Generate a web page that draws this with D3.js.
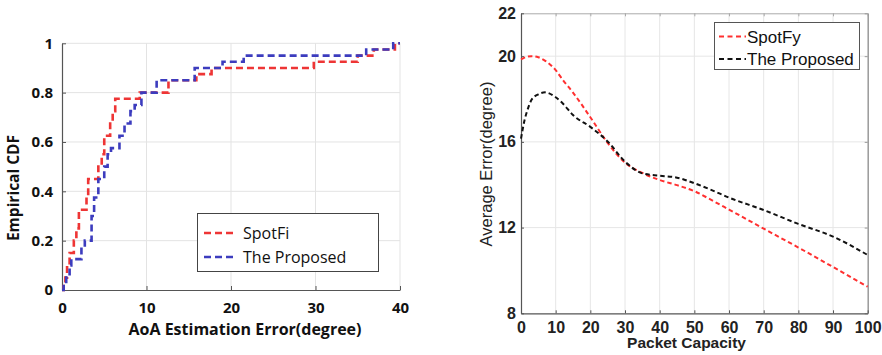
<!DOCTYPE html>
<html>
<head>
<meta charset="utf-8">
<script src="https://cdn.jsdelivr.net/npm/d3@7"></script>
<style>
  body { margin: 0; background: #fff; }
  svg { display: block; }
</style>
</head>
<body>
<script>
// ---- data: left panel (empirical CDF, step points) ----
var spotfiStepX = [0, 0.2, 0.4, 0.6, 0.9, 1.4, 1.7, 2.0, 2.9, 3.1, 4.3, 4.7, 5.0, 5.7, 6.0, 6.3, 9.2, 12.6, 15.9, 17.7, 29.8, 35.0, 36.9, 39.4, 40];
var spotfiStepY = [0, 0.025, 0.05, 0.1, 0.15, 0.2, 0.25, 0.325, 0.375, 0.45, 0.5, 0.55, 0.625, 0.675, 0.725, 0.775, 0.8, 0.85, 0.875, 0.9, 0.925, 0.95, 0.975, 1, 1];
var proposedStepX = [0, 0.2, 0.5, 0.9, 1.1, 2.3, 2.7, 3.5, 3.8, 4.3, 5.0, 5.4, 5.8, 6.8, 7.4, 8.1, 8.6, 9.4, 11.2, 15.7, 19.0, 21.5, 36.0, 39.2, 40];
var proposedStepY = [0, 0.025, 0.05, 0.1, 0.125, 0.175, 0.2, 0.3, 0.375, 0.45, 0.5, 0.55, 0.575, 0.625, 0.675, 0.725, 0.75, 0.8, 0.85, 0.9, 0.925, 0.95, 0.975, 1, 1];
var cdfTicksX = [0, 10, 20, 30, 40];
var cdfTicksY = [0, 0.2, 0.4, 0.6, 0.8, 1];

// ---- data: right panel (average error vs packet capacity) ----
var packetX = [0, 1, 2, 3, 5, 7, 10, 12, 15, 20, 25, 30, 35, 40, 45, 50, 55, 60, 70, 80, 90, 100];
var spotfyErr = [19.85, 19.93, 19.98, 20.0, 19.95, 19.78, 19.35, 18.9, 18.3, 17.15, 15.95, 15.03, 14.55, 14.22, 13.98, 13.7, 13.28, 12.84, 11.95, 11.07, 10.16, 9.24];
var proposedErr = [16.15, 17.0, 17.55, 17.95, 18.22, 18.31, 18.08, 17.8, 17.25, 16.7, 16.02, 15.08, 14.53, 14.42, 14.33, 14.07, 13.75, 13.4, 12.82, 12.17, 11.58, 10.72];
var errTicksX = [0, 10, 20, 30, 40, 50, 60, 70, 80, 90, 100];
var errTicksY = [8, 12, 16, 20, 22];

var w = 882, h = 355;
var svg = d3.select("body").append("svg").attr("width", w).attr("height", h);

// ================= LEFT PANEL =================
var leftFont = "'Open Sans', 'Noto Sans', sans-serif";
var x1 = d3.scaleLinear().domain([0, 40]).range([62, 400]);
var y1 = d3.scaleLinear().domain([0, 1]).range([290, 43.3]);

// grid
svg.append("g").selectAll("line.v").data(cdfTicksX.slice(1)).enter().append("line")
  .attr("x1", function(d) { return x1(d); }).attr("x2", function(d) { return x1(d); })
  .attr("y1", y1(0)).attr("y2", y1(1))
  .attr("stroke", "#e3e3e3").attr("stroke-width", 1);
svg.append("g").selectAll("line.h").data(cdfTicksY.slice(1)).enter().append("line")
  .attr("x1", x1(0)).attr("x2", x1(40))
  .attr("y1", function(d) { return y1(d); }).attr("y2", function(d) { return y1(d); })
  .attr("stroke", "#e3e3e3").attr("stroke-width", 1);

var ax1 = svg.append("g").attr("transform", "translate(0," + y1(0) + ")")
  .call(d3.axisBottom(x1).tickValues(cdfTicksX).tickFormat(String).tickSize(-4).tickSizeOuter(0).tickPadding(12));
var ay1 = svg.append("g").attr("transform", "translate(" + x1(0) + ",0)")
  .call(d3.axisLeft(y1).tickValues(cdfTicksY).tickFormat(String).tickSize(-4).tickSizeOuter(0).tickPadding(9));
[ax1, ay1].forEach(function(a) {
  a.select(".domain").attr("stroke", "#555").attr("stroke-width", 1.2);
  a.selectAll(".tick line").attr("stroke", "#555");
  a.selectAll("text").attr("font-family", leftFont).attr("font-weight", "bold")
    .attr("font-size", "15px").attr("fill", "#111");
});

svg.append("text").attr("x", 245).attr("y", 335).attr("text-anchor", "middle")
  .attr("font-family", leftFont).attr("font-weight", "bold").attr("font-size", "16px").attr("fill", "#111")
  .text("AoA Estimation Error(degree)");
svg.append("text").attr("transform", "translate(19,188) rotate(-90)").attr("text-anchor", "middle")
  .attr("font-family", leftFont).attr("font-weight", "bold").attr("font-size", "15.5px").attr("fill", "#111")
  .text("Empirical CDF");

var stepLine = d3.line()
  .x(function(d) { return x1(d[0]); })
  .y(function(d) { return y1(d[1]); })
  .curve(d3.curveStepAfter);

var leftSeries = [
  { name: "SpotFi", xs: spotfiStepX, ys: spotfiStepY, color: "#ee3535" },
  { name: "The Proposed", xs: proposedStepX, ys: proposedStepY, color: "#3c3cbe" }
];
leftSeries.forEach(function(s) {
  svg.append("path")
    .datum(s.xs.map(function(v, i) { return [v, s.ys[i]]; }))
    .attr("d", stepLine)
    .attr("fill", "none").attr("stroke", s.color).attr("stroke-width", 2.6)
    .attr("stroke-dasharray", "7,4");
});

// legend left
var lg1 = svg.append("g");
lg1.append("rect").attr("x", 197.5).attr("y", 213.5).attr("width", 181).attr("height", 58)
  .attr("fill", "#fff").attr("stroke", "#444").attr("stroke-width", 1);
leftSeries.forEach(function(s, i) {
  var yy = 233 + i * 24;
  lg1.append("line").attr("x1", 204).attr("x2", 235).attr("y1", yy).attr("y2", yy)
    .attr("stroke", s.color).attr("stroke-width", 2.4).attr("stroke-dasharray", "7,4");
  lg1.append("text").attr("x", 243).attr("y", yy + 5.5)
    .attr("font-family", leftFont).attr("font-size", "16px").attr("fill", "#111").text(s.name);
});

// ================= RIGHT PANEL =================
var rightFont = "'Liberation Sans', Arial, sans-serif";
var x2 = d3.scaleLinear().domain([0, 100]).range([521, 867.7]);
var y2 = d3.scaleLinear().domain([8, 22]).range([313.3, 13.3]);

svg.append("g").selectAll("line").data(errTicksX.slice(1, -1)).enter().append("line")
  .attr("x1", function(d) { return x2(d); }).attr("x2", function(d) { return x2(d); })
  .attr("y1", y2(8)).attr("y2", y2(22))
  .attr("stroke", "#e6e6e6").attr("stroke-width", 1);
svg.append("g").selectAll("line").data(errTicksY.slice(1, -1)).enter().append("line")
  .attr("x1", x2(0)).attr("x2", x2(100))
  .attr("y1", function(d) { return y2(d); }).attr("y2", function(d) { return y2(d); })
  .attr("stroke", "#e6e6e6").attr("stroke-width", 1);

// box top / right
svg.append("g").attr("transform", "translate(0," + y2(22) + ")")
  .call(d3.axisTop(x2).tickValues(errTicksX).tickFormat("").tickSize(-3).tickSizeOuter(0))
  .call(function(g) { g.selectAll("path,line").attr("stroke", "#aaa"); });
svg.append("g").attr("transform", "translate(" + x2(100) + ",0)")
  .call(d3.axisRight(y2).tickValues(errTicksY).tickFormat("").tickSize(-3).tickSizeOuter(0))
  .call(function(g) { g.selectAll("path,line").attr("stroke", "#999"); g.select(".domain").attr("stroke-width", 1.5); });

var ax2 = svg.append("g").attr("transform", "translate(0," + y2(8) + ")")
  .call(d3.axisBottom(x2).tickValues(errTicksX).tickFormat(String).tickSize(-3).tickSizeOuter(0).tickPadding(8));
var ay2 = svg.append("g").attr("transform", "translate(" + x2(0) + ",0)")
  .call(d3.axisLeft(y2).tickValues(errTicksY).tickFormat(String).tickSize(-3).tickSizeOuter(0).tickPadding(5));
[ax2, ay2].forEach(function(a) {
  a.select(".domain").attr("stroke", "#555").attr("stroke-width", 1.2);
  a.selectAll(".tick line").attr("stroke", "#555");
  a.selectAll("text").attr("font-family", rightFont).attr("font-weight", "bold")
    .attr("font-size", "16px").attr("fill", "#222");
});

svg.append("text").attr("x", 686.5).attr("y", 348).attr("text-anchor", "middle")
  .attr("font-family", rightFont).attr("font-weight", "bold").attr("font-size", "15.5px").attr("fill", "#222")
  .text("Packet Capacity");
svg.append("text").attr("transform", "translate(492,164) rotate(-90)").attr("text-anchor", "middle")
  .attr("font-family", rightFont).attr("font-size", "16.5px").attr("fill", "#222")
  .text("Average Error(degree)");

var errLine = d3.line()
  .x(function(d) { return x2(d[0]); })
  .y(function(d) { return y2(d[1]); })
  .curve(d3.curveMonotoneX);

var rightSeries = [
  { name: "SpotFy", vals: spotfyErr, color: "#ff3030" },
  { name: "The Proposed", vals: proposedErr, color: "#111" }
];
rightSeries.forEach(function(s) {
  svg.append("path")
    .datum(packetX.map(function(v, i) { return [v, s.vals[i]]; }))
    .attr("d", errLine)
    .attr("fill", "none").attr("stroke", s.color).attr("stroke-width", 2)
    .attr("stroke-dasharray", "4.5,3");
});

// legend right
var lg2 = svg.append("g");
lg2.append("rect").attr("x", 714.5).attr("y", 22.5).attr("width", 145).attr("height", 47)
  .attr("fill", "#fff").attr("stroke", "#555").attr("stroke-width", 1);
rightSeries.forEach(function(s, i) {
  var yy = 36.5 + i * 22.5;
  lg2.append("line").attr("x1", 719).attr("x2", 746).attr("y1", yy).attr("y2", yy)
    .attr("stroke", s.color).attr("stroke-width", 1.8).attr("stroke-dasharray", "5,3.5");
  lg2.append("text").attr("x", 747).attr("y", yy + 6)
    .attr("font-family", rightFont).attr("font-size", "17px").attr("fill", "#111").text(s.name);
});
</script>
</body>
</html>
